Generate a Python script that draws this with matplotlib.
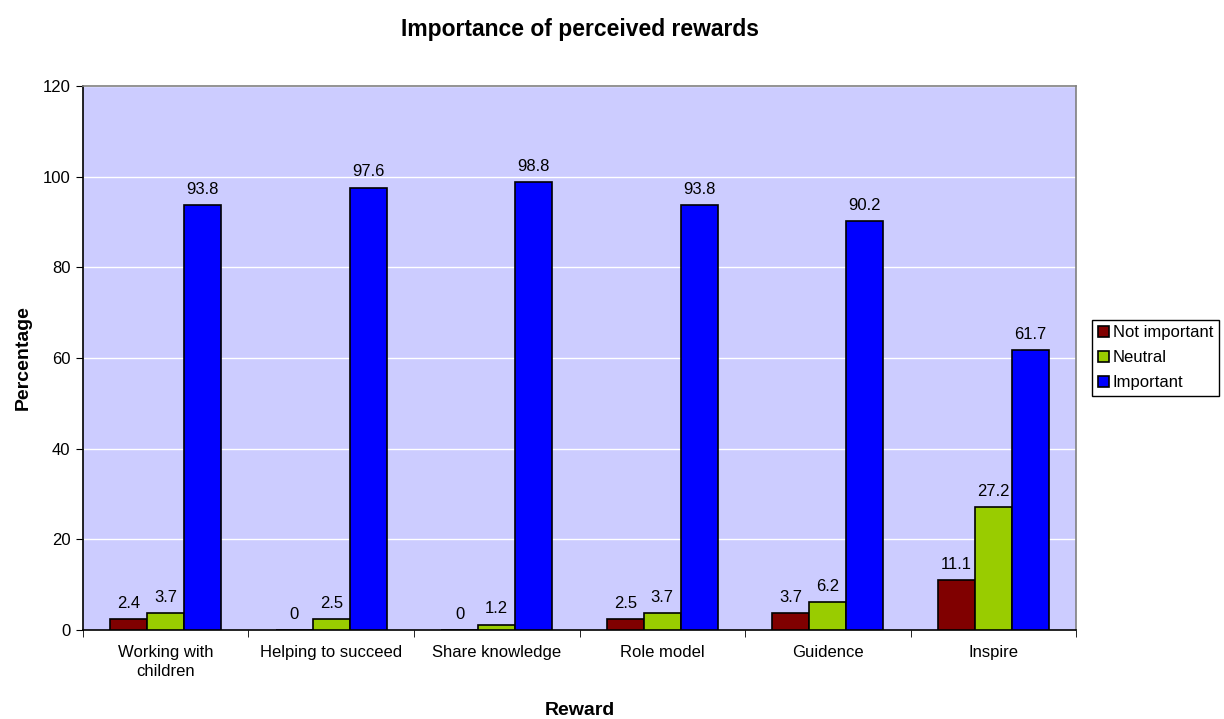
import numpy as np
import matplotlib.pyplot as plt

plt.rcParams['font.family'] = ['Liberation Sans', 'DejaVu Sans']

rewards = ['Working with\nchildren', 'Helping to succeed', 'Share knowledge',
           'Role model', 'Guidence', 'Inspire']
not_important = [2.4, 0, 0, 2.5, 3.7, 11.1]
neutral = [3.7, 2.5, 1.2, 3.7, 6.2, 27.2]
important = [93.8, 97.6, 98.8, 93.8, 90.2, 61.7]

series = [('Not important', not_important, '#800000'),
          ('Neutral', neutral, '#99CC00'),
          ('Important', important, '#0000FF')]

fig = plt.figure(figsize=(12.24, 7.19), dpi=100)
ax = fig.add_axes([0.0678, 0.1238, 0.8113, 0.7566])
ax.set_facecolor('#CCCCFF')

x = np.arange(len(rewards))
w = 0.2235
for i, (name, vals, col) in enumerate(series):
    pos = x + (i - 1) * w
    ax.bar(pos, vals, w, color=col, edgecolor='black', linewidth=1.2,
           label=name, zorder=3)
    for xp, v in zip(pos, vals):
        ax.annotate(f'{v:g}', (xp, v), xytext=(0, 8), textcoords='offset points',
                    ha='center', va='baseline', fontsize=12, zorder=4)

ax.set_xlim(-0.5, len(rewards) - 0.5)
ax.set_ylim(0, 120)
ax.set_yticks(range(0, 121, 20))
ax.yaxis.grid(True, color='white', linewidth=1, zorder=0)

ax.set_xticks(x)
ax.set_xticklabels(rewards, fontsize=12, linespacing=1.35)
ax.tick_params(axis='x', length=0, pad=11)
ax.set_xticks(np.arange(-0.5, len(rewards)), minor=True)
ax.tick_params(axis='x', which='minor', length=5, direction='out', color='black')
ax.tick_params(axis='y', length=5, direction='out', labelsize=12, pad=4)

for s in ['left', 'bottom']:
    ax.spines[s].set_color('black')
    ax.spines[s].set_linewidth(1.2)
for s in ['top', 'right']:
    ax.spines[s].set_color('#808080')
    ax.spines[s].set_linewidth(1.2)

ax.set_title('Importance of perceived rewards', fontsize=16.5, fontweight='bold', pad=36)
ax.set_ylabel('Percentage', fontsize=14, fontweight='bold', labelpad=8)
ax.set_xlabel('Reward', fontsize=14, fontweight='bold', labelpad=16)

leg = ax.legend(loc='center left', bbox_to_anchor=(1.016, 0.5), fontsize=12,
                frameon=True, fancybox=False, edgecolor='black', framealpha=1,
                handlelength=0.7, handleheight=0.7, handletextpad=0.2,
                borderpad=0.35, labelspacing=0.6, borderaxespad=0)
leg.get_frame().set_linewidth(1)

fig.savefig('out.png', dpi=100)
